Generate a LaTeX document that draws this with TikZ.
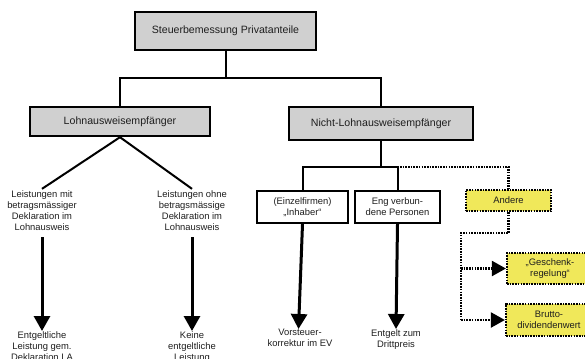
\documentclass[tikz,border=0pt]{standalone}
\usepackage{fontspec}
\setmainfont{Liberation Sans}
\usetikzlibrary{arrows.meta}
\definecolor{boxgray}{RGB}{208,208,208}
\definecolor{boxyellow}{RGB}{240,232,90}
\definecolor{txt}{RGB}{30,30,30}
\tikzset{
  graybox/.style={draw=black, line width=2.4pt, fill=boxgray, text=txt, inner sep=0pt, font=\fontsize{10.6}{12}\selectfont},
  whitebox/.style={draw=black, line width=2.4pt, fill=white, text=txt, inner sep=0pt, align=center, font=\fontsize{9.4}{11}\selectfont},
  yellowbox/.style={draw=black, line width=2.2pt, dash pattern=on 1.6pt off 1.1pt, fill=boxyellow, text=txt, inner sep=0pt, align=center, font=\fontsize{9.4}{11}\selectfont},
  plain/.style={text=txt, align=center, inner sep=2pt, font=\fontsize{9.4}{11}\selectfont},
  conn/.style={draw=black, line width=2pt},
  dotconn/.style={draw=black, line width=2.2pt, dash pattern=on 1.6pt off 1.1pt},
  bigarrow/.style={draw=black, line width=3pt, -{Triangle[width=16pt,length=15pt]}},
  dotarrow/.style={dotconn, -{Triangle[width=15pt,length=14pt]}},
}
\begin{document}
\begin{tikzpicture}[x=1pt,y=1pt]
\useasboundingbox (0,0) rectangle (585,-358);

\node[graybox, minimum width=181pt, minimum height=38pt] (top) at (225.5,-31) {Steuerbemessung Privatanteile};
\node[graybox, minimum width=180pt, minimum height=29pt] (lohn) at (120,-121.5) {Lohnausweisempfänger};
\node[graybox, minimum width=184pt, minimum height=33pt] (nicht) at (381,-123.5) {Nicht-Lohnausweisempfänger};

\node[whitebox, minimum width=91pt, minimum height=32pt] (einzel) at (302.5,-207) {(Einzelfirmen)\\„Inhaber“};
\node[whitebox, minimum width=85pt, minimum height=32pt] (eng) at (397.5,-207) {Eng verbun-\\dene Personen};
\node[yellowbox, minimum width=85pt, minimum height=21pt] (andere) at (508.5,-200.5) {Andere};
\node[yellowbox, minimum width=86pt, minimum height=31pt] (gesch) at (550,-268.5) {„Geschenk-\\regelung“};
\node[yellowbox, minimum width=86pt, minimum height=32pt] (brutto) at (549,-320) {Brutto-\\dividendenwert};

\node[plain] (lmit) at (42,-211) {Leistungen mit\\betragsmässiger\\Deklaration im\\Lohnausweis};
\node[plain] (lohne) at (192,-211) {Leistungen ohne\\betragsmässige\\Deklaration im\\Lohnausweis};
\node[plain, anchor=north] (entg) at (42,-329) {Entgeltliche\\Leistung gem.\\Deklaration LA};
\node[plain, anchor=north] (keine) at (192,-329) {Keine\\entgeltliche\\Leistung};
\node[plain, anchor=north] (vorst) at (300,-327) {Vorsteuer-\\korrektur im EV};
\node[plain, anchor=north] (drittp) at (396,-327) {Entgelt zum\\Drittpreis};

\coordinate (j1) at (225.5,-78);
\coordinate (j2) at (381,-167);
\coordinate (d2) at (461,-320);

% top level
\draw[conn] (top.south) -- (j1);
\draw[conn] (lohn.north) |- (j1) -| (nicht.north);

% Lohnausweisempfaenger branches
\draw[conn] (lohn.south) -- (lmit.north);
\draw[conn] (lohn.south) -- (lohne.north);
\draw[bigarrow, shorten <=4pt] (lmit.south) -- ([yshift=-2pt]entg.north);
\draw[bigarrow, shorten <=4pt] (lohne.south) -- ([yshift=-2pt]keine.north);

% Nicht-Lohnausweisempfaenger branches
\draw[conn] (nicht.south) -- (j2);
\draw[conn] (einzel.north) |- (j2) -| (eng.north);
\draw[dotconn] (j2) -| (andere.north);
\draw[bigarrow] (einzel.south) -- ([xshift=-1.5pt,yshift=-2pt]vorst.north);
\draw[bigarrow] (eng.south) -- ([yshift=-2pt]drittp.north);

% Andere branches
\draw[dotconn] (andere.south) -- ++(0,-21) -| (d2);
\draw[dotarrow] (d2) -- (brutto.west);
\draw[dotarrow] (d2 |- gesch.west) -- (gesch.west);
\end{tikzpicture}
\end{document}
